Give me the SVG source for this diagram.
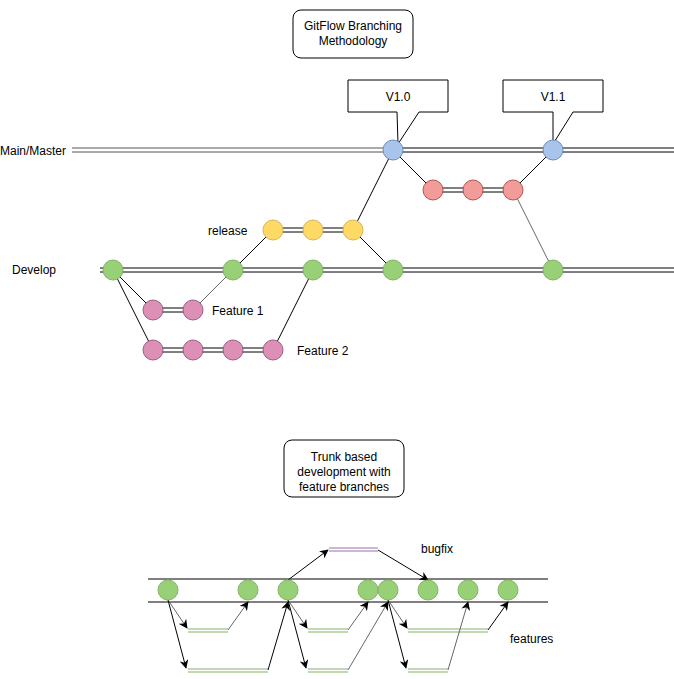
<svg xmlns="http://www.w3.org/2000/svg" width="674" height="679" viewBox="0 0 674 679">
<style>
text{font-family:"Liberation Sans",Arial,sans-serif;font-size:12px;fill:#000}
.c{text-anchor:middle}
.l{stroke:#000;stroke-width:1;fill:none}
.g{stroke:#666;stroke-width:1;fill:none}
.gc{fill:#97d077;stroke:#82b366}
.bl{fill:#a9c4eb;stroke:#6c8ebf}
.rd{fill:#f19c99;stroke:#b85450}
.yl{fill:#ffd966;stroke:#d6b656}
.pk{fill:#dd8fb6;stroke:#996185}
.box{fill:#fff;stroke:#000}
.fl{stroke:#82b366;stroke-width:1;fill:none}
</style>
<defs><marker id="a" viewBox="0 0 10 10" refX="9" refY="5" markerWidth="9" markerHeight="9" orient="auto"><path d="M0,0L10,5L0,10L3,5z" fill="#000"/></marker></defs>
<rect width="674" height="679" fill="#fff"/>
<g id="title1"><rect class="box" x="293" y="10" width="120" height="48" rx="8"/><text class="c" x="353" y="30">GitFlow Branching</text><text class="c" x="353" y="45">Methodology</text></g>
<g id="title2"><rect class="box" x="284" y="440" width="120" height="57" rx="8"/><text class="c" x="344" y="461">Trunk based</text><text class="c" x="344" y="476">development with</text><text class="c" x="344" y="491">feature branches</text></g>
<g id="labels">
<text x="0" y="155">Main/Master</text><text x="12" y="274">Develop</text>
<text x="208" y="235">release</text><text x="212" y="315">Feature 1</text><text x="297" y="355">Feature 2</text>
<text x="421" y="553">bugfix</text><text x="510" y="643">features</text>
</g>
<g id="connectors">
<path d="M72 148H393M72 152H393" stroke="#555" fill="none"/>
<path class="l" d="M393 148H674M393 152H674"/>
<path class="l" d="M100 268H674M100 272H674"/>
<path class="l" d="M433 188H513M433 192H513M273 228H353M273 232H353M153 308H193M153 312H193M153 348H273M153 352H273"/>
<path class="l" d="M113 270L153 310M113 270L153 350M233 270L273 230M353 230L393 270M353 230L393 150M393 150L433 190M513 190L553 150M273 350L313 270"/>
<path class="g" d="M193 310L233 270M513 190L553 270"/>
<path class="l" d="M148 579H548M148 602H548"/>
<path d="M329 548H378M329 551H378" stroke="#9673a6" fill="none"/>
<path class="l" d="M288 580L328 550" marker-end="url(#a)"/>
<path class="l" d="M378 550L428 580" marker-end="url(#a)"/>
<path class="fl" d="M188 629H228M188 632H228M308 629H348M308 632H348M408 629H488M408 632H488M188 669H268M188 672H268M308 669H348M308 672H348M408 669H448M408 672H448"/>
<g marker-end="url(#a)">
<path class="g" d="M168 600L187 628"/>
<path class="l" d="M168 600L186 668"/>
<path class="g" d="M228 630L248 602"/>
<path class="l" d="M268 670L288 602"/>
<path class="g" d="M288 600L307 628"/>
<path class="l" d="M288 600L306 668"/>
<path class="g" d="M348 630L368 602"/>
<path class="g" d="M348 670L388 602"/>
<path class="g" d="M388 600L407 628"/>
<path class="l" d="M388 600L406 668"/>
<path class="g" d="M448 670L468 602"/>
<path class="l" d="M488 630L508 602"/>
</g>
</g>
<g id="callouts">
<path class="box" d="M348 80H448V112H419L398 144L397 112H348Z"/><text class="c" x="398" y="101">V1.0</text>
<path class="box" d="M503 80H603V112H573L553 144L553 112H503Z"/><text class="c" x="553" y="101">V1.1</text>
</g>
<g id="nodes">
<circle class="bl" cx="393" cy="150" r="10"/><circle class="bl" cx="553" cy="150" r="10"/>
<circle class="rd" cx="433" cy="190" r="10"/><circle class="rd" cx="473" cy="190" r="10"/><circle class="rd" cx="513" cy="190" r="10"/>
<circle class="yl" cx="273" cy="230" r="10"/><circle class="yl" cx="313" cy="230" r="10"/><circle class="yl" cx="353" cy="230" r="10"/>
<circle class="gc" cx="113" cy="270" r="10"/><circle class="gc" cx="233" cy="270" r="10"/><circle class="gc" cx="313" cy="270" r="10"/><circle class="gc" cx="393" cy="270" r="10"/><circle class="gc" cx="553" cy="270" r="10"/>
<circle class="pk" cx="153" cy="310" r="10"/><circle class="pk" cx="193" cy="310" r="10"/>
<circle class="pk" cx="153" cy="350" r="10"/><circle class="pk" cx="193" cy="350" r="10"/><circle class="pk" cx="233" cy="350" r="10"/><circle class="pk" cx="273" cy="350" r="10"/>
<circle class="gc" cx="168" cy="590" r="10"/><circle class="gc" cx="248" cy="590" r="10"/><circle class="gc" cx="288" cy="590" r="10"/><circle class="gc" cx="368" cy="590" r="10"/><circle class="gc" cx="388" cy="590" r="10"/><circle class="gc" cx="428" cy="590" r="10"/><circle class="gc" cx="468" cy="590" r="10"/><circle class="gc" cx="508" cy="590" r="10"/>
</g>
</svg>
